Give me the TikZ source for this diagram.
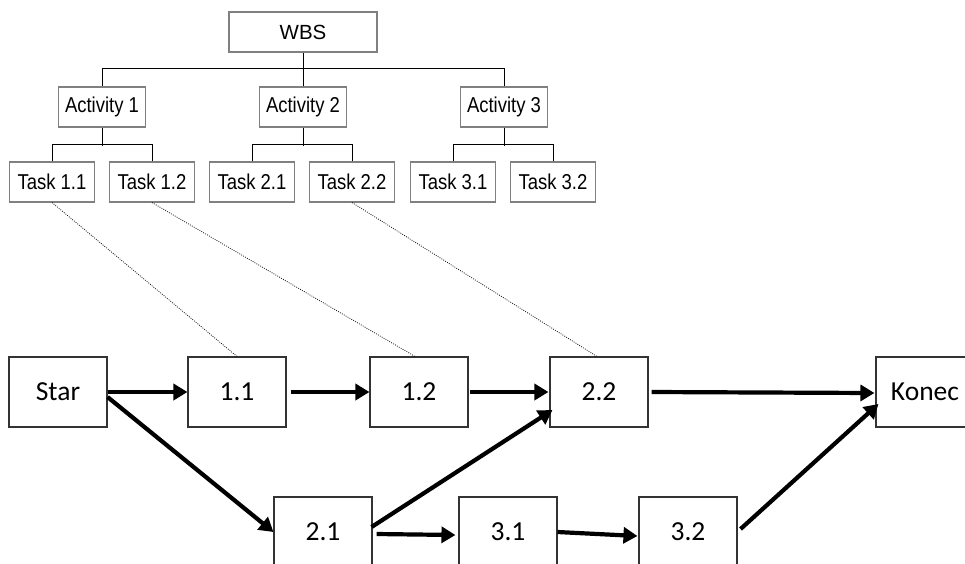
\documentclass[tikz,border=0pt]{standalone}
\usepackage{fontspec}
\setmainfont{Liberation Sans}
\newfontfamily\narrowsans[FakeStretch=0.86]{Liberation Sans}
\newfontfamily\calibri{Carlito}
\usetikzlibrary{arrows.meta}
\begin{document}
\begin{tikzpicture}[x=1pt,y=-1pt,
  wbsbox/.style={draw=black!50, line width=1.1pt, fill=white, inner sep=0pt,
    minimum width=85pt, minimum height=40pt, font=\narrowsans\fontsize{21.5}{23}\selectfont},
  tree/.style={draw=black, line width=1pt},
  netbox/.style={draw=black!80, line width=1.1pt, fill=white, inner sep=0pt,
    minimum width=98pt, minimum height=70pt, font=\calibri\fontsize{27.5}{30}\selectfont},
  flow/.style={line width=4.2pt, -{Triangle[length=14pt,width=16pt]}},
  trace/.style={draw=black!90, line width=0.8pt, dash pattern=on 0.9pt off 1.3pt}
]
\useasboundingbox (0,0) rectangle (965,563);
\clip (0,0) rectangle (965,563);

% WBS tree
\node[wbsbox, minimum width=148pt, font=\fontsize{20.5}{22}\selectfont] (wbs) at (303,32) {WBS};
\node[wbsbox, minimum width=87pt] (a1) at (102,107) {Activity 1};
\node[wbsbox, minimum width=87pt] (a2) at (303,107) {Activity 2};
\node[wbsbox, minimum width=87pt] (a3) at (504,107) {Activity 3};
\node[wbsbox] (t11) at (52,182) {Task 1.1};
\node[wbsbox] (t12) at (152,182) {Task 1.2};
\node[wbsbox] (t21) at (252,182) {Task 2.1};
\node[wbsbox] (t22) at (352,182) {Task 2.2};
\node[wbsbox] (t31) at (453,182) {Task 3.1};
\node[wbsbox] (t32) at (553,182) {Task 3.2};

\draw[tree] (wbs.south) -- ++(0,17);
\draw[tree] (a1.north) -- ++(0,-18) -| (a3.north);
\draw[tree] (a2.north) -- ++(0,-18);
\foreach \p/\l/\r in {a1/t11/t12, a2/t21/t22, a3/t31/t32} {
  \draw[tree] (\p.south) -- ++(0,18);
  \draw[tree] (\l.north) -- ++(0,-17) -| (\r.north);
}

% network of tasks
\node[netbox] (star) at (58,392) {Star};
\node[netbox] (n11) at (237,392) {1.1};
\node[netbox] (n12) at (419,392) {1.2};
\node[netbox] (n22) at (599,392) {2.2};
\node[netbox] (konec) at (925,392) {Konec};
\node[netbox] (n21) at (323,532) {2.1};
\node[netbox] (n31) at (508,532) {3.1};
\node[netbox] (n32) at (688,532) {3.2};

% links from tasks to network nodes
\draw[trace] (t11.south) -- (n11.north);
\draw[trace] (t12.south) -- ([xshift=-4pt]n12.north);
\draw[trace] (t22.south) -- ([xshift=-2pt]n22.north);

% precedence arrows
\draw[flow] (star.east) -- (n11.west);
\draw[flow] ([xshift=4pt]n11.east) -- (n12.west);
\draw[flow] ([xshift=1pt]n12.east) -- ([xshift=-1pt]n22.west);
\draw[flow] ([xshift=3pt]n22.east) -- ([xshift=-1pt,yshift=-1pt]konec.west);
\draw[flow] ([yshift=-5pt]star.east) -- (n21.west);
\draw[flow] ([xshift=-1pt,yshift=5pt]n21.east) -- ([xshift=3pt,yshift=-18pt]n22.west);
\draw[flow] ([xshift=4pt,yshift=-2pt]n21.east) -- ([xshift=-3pt,yshift=-3pt]n31.west);
\draw[flow] (n31.east) -- ([xshift=-1pt,yshift=-4pt]n32.west);
\draw[flow] ([xshift=3pt,yshift=3pt]n32.east) -- ([xshift=3pt,yshift=-12pt]konec.west);
\end{tikzpicture}
\end{document}
